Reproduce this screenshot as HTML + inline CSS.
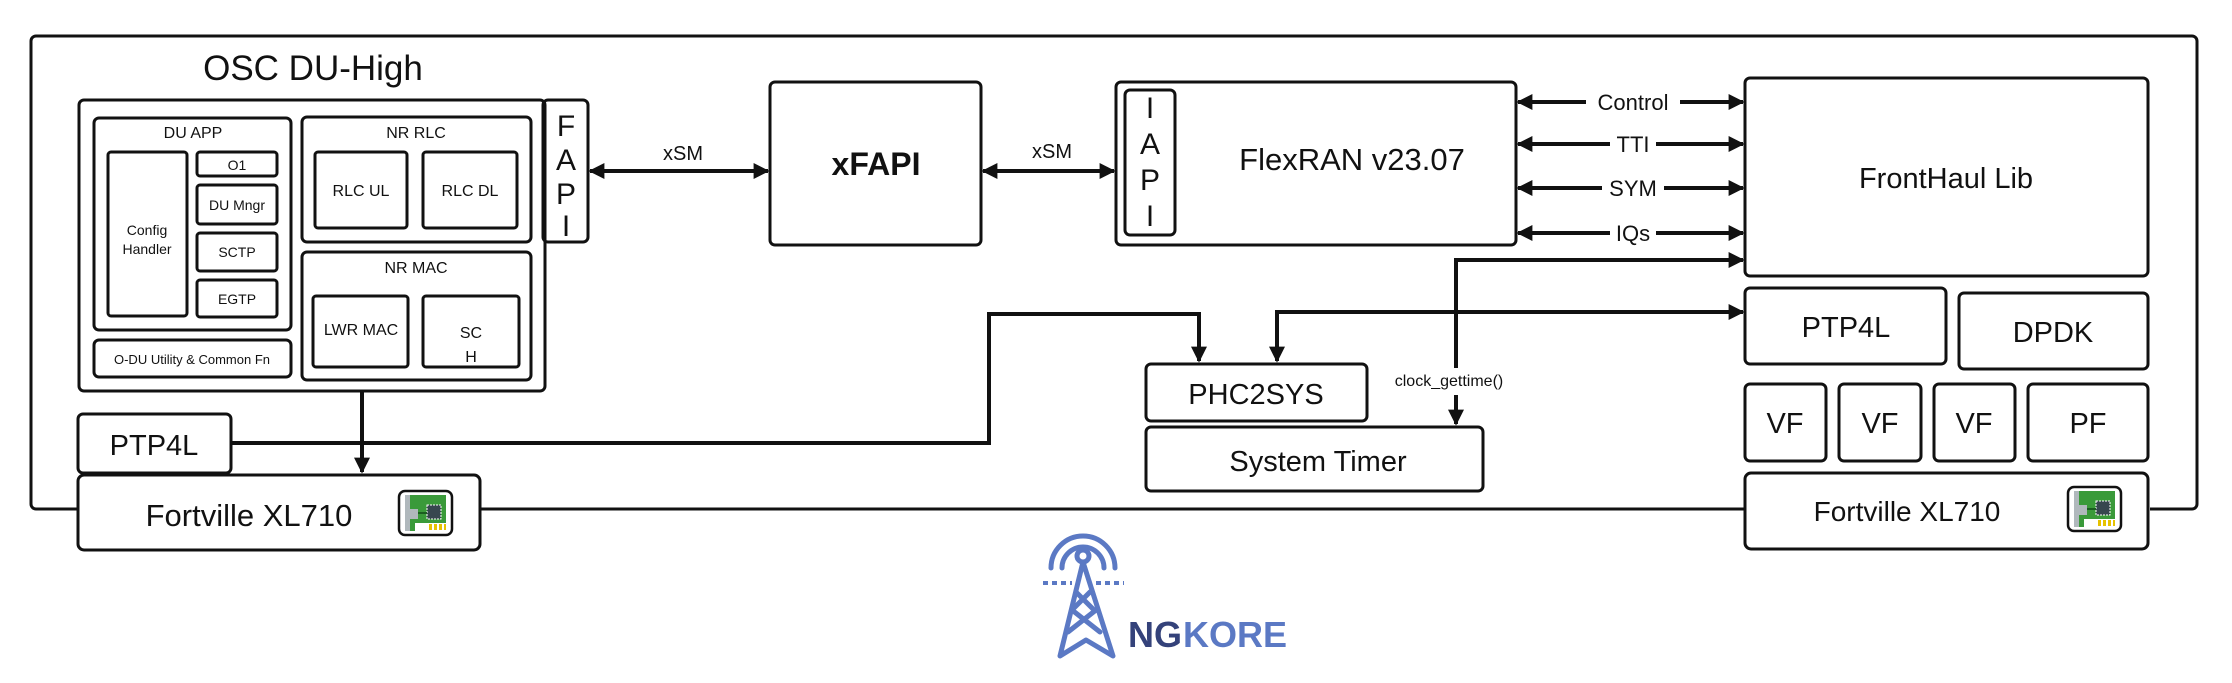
<!DOCTYPE html>
<html><head><meta charset="utf-8"><style>
html,body{margin:0;padding:0;background:#fff}
svg{display:block}
text{font-family:"Liberation Sans",sans-serif;fill:#111}
</style></head><body>
<svg width="2232" height="683" viewBox="0 0 2232 683" xmlns="http://www.w3.org/2000/svg">
<defs>
<marker id="ah" viewBox="0 0 10 10" refX="9" refY="5" markerWidth="4" markerHeight="4" orient="auto-start-reverse"><path d="M0,0 L10,5 L0,10 z" fill="#111"/></marker>
<g id="nic">
<rect x="0" y="0" width="53" height="44" rx="6" fill="#fff" stroke="#111" stroke-width="2.5"/>
<rect x="6" y="4" width="41" height="36" fill="#3a9a3a"/>
<rect x="6" y="4" width="5" height="36" fill="#b0b8bc"/>
<rect x="9" y="18" width="10" height="10" fill="#b0b8bc"/>
<rect x="28" y="14" width="14" height="14" fill="#37474f" stroke="#fff" stroke-width="1" stroke-dasharray="2,1"/>
<line x1="19" y1="22" x2="28" y2="22" stroke="#1b5e20" stroke-width="2"/>
<rect x="16" y="32" width="31" height="8" fill="#fff"/>
<g fill="#e6c200"><rect x="30" y="33" width="3" height="6"/><rect x="35" y="33" width="3" height="6"/><rect x="40" y="33" width="3" height="6"/><rect x="45" y="33" width="2" height="6"/></g>
</g>
</defs>
<g fill="none" stroke="#111" stroke-width="3">
<path d="M78,509 H36 a5,5 0 0 1 -5,-5 V41 a5,5 0 0 1 5,-5 H2192 a5,5 0 0 1 5,5 V504 a5,5 0 0 1 -5,5 H2150"/>
<line x1="480" y1="509" x2="1745" y2="509"/>
<rect x="79" y="100" width="466" height="291" rx="5"/>
<rect x="543" y="100" width="45" height="142" rx="5"/>
<rect x="94" y="118" width="197" height="212" rx="5"/>
<rect x="108" y="152" width="79" height="164" rx="3"/>
<rect x="197" y="152" width="80" height="24" rx="3"/>
<rect x="197" y="185" width="80" height="39" rx="3"/>
<rect x="197" y="233" width="80" height="38" rx="3"/>
<rect x="197" y="280" width="80" height="37" rx="3"/>
<rect x="94" y="340" width="197" height="37" rx="5"/>
<rect x="302" y="117" width="229" height="125" rx="5"/>
<rect x="315" y="152" width="92" height="76" rx="3"/>
<rect x="423" y="152" width="94" height="76" rx="3"/>
<rect x="302" y="252" width="229" height="128" rx="5"/>
<rect x="313" y="296" width="95" height="71" rx="3"/>
<rect x="423" y="296" width="96" height="71" rx="3"/>
<rect x="78" y="414" width="153" height="59" rx="5"/>
<rect x="78" y="475" width="402" height="75" rx="6"/>
<rect x="770" y="82" width="211" height="163" rx="5"/>
<rect x="1116" y="82" width="400" height="163" rx="5"/>
<rect x="1125" y="90" width="50" height="145" rx="5"/>
<rect x="1745" y="78" width="403" height="198" rx="5"/>
<rect x="1745" y="288" width="201" height="76" rx="5"/>
<rect x="1959" y="293" width="189" height="76" rx="5"/>
<rect x="1745" y="384" width="81" height="77" rx="5"/>
<rect x="1839" y="384" width="82" height="77" rx="5"/>
<rect x="1934" y="384" width="81" height="77" rx="5"/>
<rect x="2028" y="384" width="120" height="77" rx="5"/>
<rect x="1745" y="473" width="403" height="76" rx="6"/>
<rect x="1146" y="364" width="221" height="57" rx="5"/>
<rect x="1146" y="427" width="337" height="64" rx="5"/>
</g>
<g fill="none" stroke="#111" stroke-width="4">
<line x1="590" y1="171" x2="768" y2="171" marker-start="url(#ah)" marker-end="url(#ah)"/>
<line x1="983" y1="171" x2="1114" y2="171" marker-start="url(#ah)" marker-end="url(#ah)"/>
<line x1="362" y1="391" x2="362" y2="472" marker-end="url(#ah)"/>
<path d="M231,443 H989 V314 H1199 V361" marker-end="url(#ah)"/>
<path d="M1743,312 H1277 V361" marker-start="url(#ah)" marker-end="url(#ah)"/>
<path d="M1743,260 H1456 V368"  marker-start="url(#ah)"/>
<line x1="1456" y1="395" x2="1456" y2="424" marker-end="url(#ah)"/>
<line x1="1518" y1="102" x2="1586" y2="102" marker-start="url(#ah)"/>
<line x1="1680" y1="102" x2="1743" y2="102" marker-end="url(#ah)"/>
<line x1="1518" y1="144" x2="1610" y2="144" marker-start="url(#ah)"/>
<line x1="1656" y1="144" x2="1743" y2="144" marker-end="url(#ah)"/>
<line x1="1518" y1="188" x2="1602" y2="188" marker-start="url(#ah)"/>
<line x1="1664" y1="188" x2="1743" y2="188" marker-end="url(#ah)"/>
<line x1="1518" y1="233" x2="1610" y2="233" marker-start="url(#ah)"/>
<line x1="1656" y1="233" x2="1743" y2="233" marker-end="url(#ah)"/>
</g>
<use href="#nic" x="399" y="491"/>
<use href="#nic" x="2068" y="487"/>
<g text-anchor="middle">
<text x="313" y="80" font-size="35">OSC DU-High</text>
<text x="566" y="136" font-size="30">F</text>
<text x="566" y="170" font-size="30">A</text>
<text x="566" y="204" font-size="30">P</text>
<text x="566" y="236" font-size="30">I</text>
<text x="193" y="138" font-size="16">DU APP</text>
<text x="147" y="235" font-size="14">Config</text>
<text x="147" y="254" font-size="14">Handler</text>
<text x="237" y="170" font-size="14">O1</text>
<text x="237" y="210" font-size="14">DU Mngr</text>
<text x="237" y="257" font-size="14">SCTP</text>
<text x="237" y="304" font-size="14">EGTP</text>
<text x="192" y="364" font-size="13">O-DU Utility &amp; Common Fn</text>
<text x="416" y="138" font-size="16">NR RLC</text>
<text x="361" y="196" font-size="16">RLC UL</text>
<text x="470" y="196" font-size="16">RLC DL</text>
<text x="416" y="273" font-size="16">NR MAC</text>
<text x="361" y="335" font-size="16">LWR MAC</text>
<text x="471" y="338" font-size="16">SC</text>
<text x="471" y="362" font-size="16">H</text>
<text x="154" y="455" font-size="29">PTP4L</text>
<text x="249" y="526" font-size="31">Fortville XL710</text>
<text x="683" y="160" font-size="20">xSM</text>
<text x="1052" y="158" font-size="20">xSM</text>
<text x="876" y="175" font-size="32" font-weight="bold">xFAPI</text>
<text x="1150" y="118" font-size="30">I</text>
<text x="1150" y="154" font-size="30">A</text>
<text x="1150" y="190" font-size="30">P</text>
<text x="1150" y="226" font-size="30">I</text>
<text x="1352" y="170" font-size="31">FlexRAN v23.07</text>
<text x="1633" y="110" font-size="22">Control</text>
<text x="1633" y="152" font-size="22">TTI</text>
<text x="1633" y="196" font-size="22">SYM</text>
<text x="1633" y="241" font-size="22">IQs</text>
<text x="1946" y="188" font-size="29">FrontHaul Lib</text>
<text x="1846" y="337" font-size="29">PTP4L</text>
<text x="2053" y="342" font-size="29">DPDK</text>
<text x="1785" y="433" font-size="29">VF</text>
<text x="1880" y="433" font-size="29">VF</text>
<text x="1974" y="433" font-size="29">VF</text>
<text x="2088" y="433" font-size="29">PF</text>
<text x="1907" y="521" font-size="28">Fortville XL710</text>
<text x="1256" y="404" font-size="29">PHC2SYS</text>
<text x="1318" y="471" font-size="29">System Timer</text>
<text x="1449" y="386" font-size="16">clock_gettime()</text>
</g>
<g stroke="#5b79c4" stroke-width="5" fill="none" stroke-linecap="round" stroke-linejoin="round">
<path d="M1051,568 a32,32 0 0 1 64,0"/>
<path d="M1062,568 a21,21 0 0 1 42,0"/>
<circle cx="1083" cy="556" r="6"/>
<path d="M1083,562 L1060,656 L1086,640 L1113,656 Z"/>
<path d="M1072,610 L1100,632 M1096,610 L1068,632 M1076,592 L1094,610 M1090,592 L1072,610"/>
</g>
<g stroke="#5b79c4" stroke-width="4" stroke-dasharray="5,4"><line x1="1043" y1="583" x2="1072" y2="583"/><line x1="1096" y1="583" x2="1124" y2="583"/></g>
<text x="1128" y="647" font-size="36" font-weight="bold" style="fill:#34427a">NG</text>
<text x="1183" y="647" font-size="36" font-weight="bold" style="fill:#5b79c4">KORE</text>
</svg>
</body></html>
